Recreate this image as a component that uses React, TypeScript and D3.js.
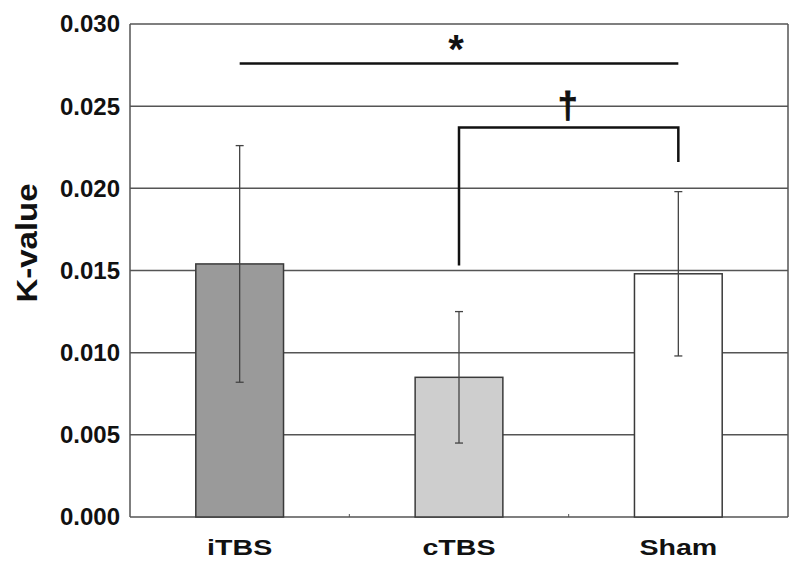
import React from "react";
import * as d3 from "d3";

const groups = ["iTBS", "cTBS", "Sham"];
const means = [0.0154, 0.0085, 0.0148];
const errors = [0.0072, 0.004, 0.005];
const fills = ["#9a9a9a", "#cecece", "#ffffff"];
const yTicks = [0, 0.005, 0.01, 0.015, 0.02, 0.025, 0.03];

// significance marks, in data units
const starLine = { from: "iTBS", to: "Sham", y: 0.0276 };
const dagger = { from: "cTBS", to: "Sham", y: 0.0237, leftEnd: 0.0153, rightEnd: 0.0216 };

const W = 800;
const H = 569;
const margin = { top: 24, right: 12, bottom: 52, left: 130 };

const x = d3
  .scaleBand<string>()
  .domain(groups)
  .range([margin.left, W - margin.right])
  .padding(0);

const y = d3
  .scaleLinear()
  .domain([0, 0.03])
  .range([H - margin.bottom, margin.top]);

const gridColor = "#555";
const fmt = d3.format(".3f");

export default function App() {
  const barW = x.bandwidth() * 0.4;
  const cx = (g: string) => (x(g) as number) + x.bandwidth() / 2;
  const x0 = margin.left;
  const x1 = W - margin.right;
  const y0 = y(0);

  return (
    <svg
      width={W}
      height={H}
      style={{ position: "absolute", left: 0, top: 0, background: "#fff" }}
      fontFamily="'Liberation Sans', Arial, sans-serif"
    >
      {/* grid */}
      {yTicks.map((t) => (
        <line key={t} x1={x0} x2={x1} y1={y(t)} y2={y(t)} stroke={gridColor} strokeWidth={1.5} />
      ))}
      <line x1={x0} x2={x0} y1={y(0.03)} y2={y0} stroke={gridColor} strokeWidth={1.5} />
      <line x1={x1} x2={x1} y1={y(0.03)} y2={y0} stroke={gridColor} strokeWidth={1.5} />

      {/* small ticks between groups */}
      {groups.slice(1).map((g) => (
        <line key={g} x1={x(g)} x2={x(g)} y1={y0} y2={y0 - 3} stroke={gridColor} strokeWidth={1} />
      ))}

      {/* bars */}
      {groups.map((g, i) => (
        <rect
          key={g}
          x={cx(g) - barW / 2}
          y={y(means[i])}
          width={barW}
          height={y0 - y(means[i])}
          fill={fills[i]}
          stroke="#3a3a3a"
          strokeWidth={1.5}
        />
      ))}

      {/* error bars */}
      {groups.map((g, i) => {
        const top = y(means[i] + errors[i]);
        const bot = y(means[i] - errors[i]);
        const c = cx(g);
        return (
          <g key={g} stroke="#444" strokeWidth={1.3}>
            <line x1={c} x2={c} y1={top} y2={bot} />
            <line x1={c - 4} x2={c + 4} y1={top} y2={top} />
            <line x1={c - 4} x2={c + 4} y1={bot} y2={bot} />
          </g>
        );
      })}

      {/* significance */}
      <line
        x1={cx(starLine.from)}
        x2={cx(starLine.to)}
        y1={y(starLine.y)}
        y2={y(starLine.y)}
        stroke="#111"
        strokeWidth={2.5}
      />
      <text
        x={(cx(starLine.from) + cx(starLine.to)) / 2 - 3}
        y={y(starLine.y)}
        textAnchor="middle"
        fontSize={40}
        fontWeight="bold"
        fill="#111"
      >
        *
      </text>
      <path
        d={`M${cx(dagger.from)},${y(dagger.leftEnd)}V${y(dagger.y)}H${cx(dagger.to)}V${y(dagger.rightEnd)}`}
        fill="none"
        stroke="#111"
        strokeWidth={2.5}
      />
      <text
        x={(cx(dagger.from) + cx(dagger.to)) / 2 - 1}
        y={y(dagger.y) - 10}
        textAnchor="middle"
        fontSize={36}
        fontWeight="bold"
        fill="#111"
        stroke="#111"
        strokeWidth={0.8}
      >
        †
      </text>

      {/* y tick labels */}
      {yTicks.map((t) => (
        <text
          key={t}
          x={x0 - 10}
          y={y(t)}
          dy="0.35em"
          textAnchor="end"
          fontSize={24}
          fontWeight="bold"
          fill="#111"
        >
          {fmt(t)}
        </text>
      ))}

      {/* category labels */}
      {groups.map((g) => (
        <text
          key={g}
          transform={`translate(${cx(g)},${y0 + 38}) scale(1.3,1)`}
          textAnchor="middle"
          fontSize={22}
          fontWeight="bold"
          fill="#111"
        >
          {g}
        </text>
      ))}

      {/* y axis title */}
      <text
        transform={`translate(37,243) rotate(-90) scale(1.1,1)`}
        textAnchor="middle"
        fontSize={30}
        fontWeight="bold"
        fill="#111"
      >
        K-value
      </text>
    </svg>
  );
}
